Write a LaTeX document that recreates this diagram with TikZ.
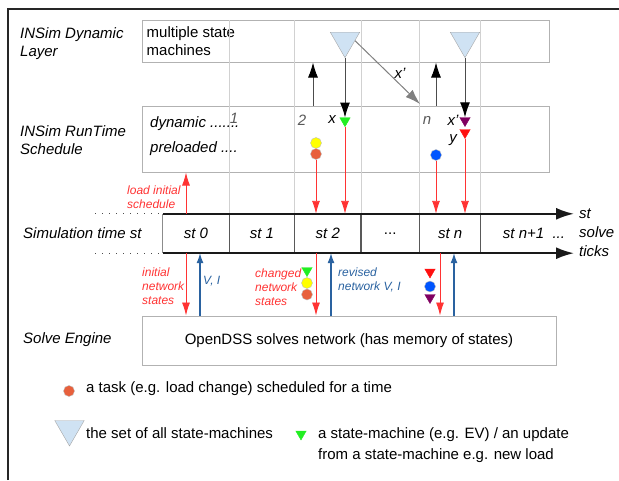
\documentclass[tikz,border=0pt]{standalone}
\usepackage{fontspec}
\setmainfont{Liberation Sans}
\usepackage{tikz}
\usetikzlibrary{arrows.meta,positioning,shapes.geometric}
\definecolor{tribl}{HTML}{CFE2F3}
\definecolor{redln}{HTML}{FF3333}
\definecolor{bluln}{HTML}{2A62A0}
\definecolor{orng}{HTML}{E8603C}
\definecolor{ylw}{HTML}{FFFF00}
\definecolor{bluc}{HTML}{0055FF}
\definecolor{purp}{HTML}{800060}
\definecolor{grn}{HTML}{22EE22}
\definecolor{trired}{HTML}{FF1010}

\begin{document}
\begin{tikzpicture}[
    x=1pt, y=-1pt,
    font=\fontsize{15}{18}\selectfont,
    layerbox/.style={
		rectangle,
		draw=black!30,
		line width=1pt,
		inner sep=0pt
	},
	sidetext/.style={
		font=\fontsize{15}{18}\selectfont\itshape,
		align=left,
		anchor=west,
		inner sep=0pt
	},
	cell/.style={
		rectangle,
		minimum height=39pt,
		inner sep=0pt,
		font=\fontsize{15}{18}\selectfont\itshape
	},
	rednote/.style={
		font=\fontsize{12}{14}\selectfont\itshape,
		text=redln,
		align=left,
		anchor=west,
		inner sep=0pt
	},
	bluenote/.style={
		rednote,
		text=bluln
	},
	bigtri/.style={
		regular polygon, regular polygon sides=3, shape border rotate=180,
		minimum size=34pt, inner sep=0pt,
		draw=black!35, fill=tribl
	},
	smalltri/.style={
		regular polygon, regular polygon sides=3, shape border rotate=180,
		minimum size=12pt, inner sep=0pt,
		fill=#1, draw=#1
	},
	blob/.style={
		circle, minimum size=11pt, inner sep=0pt,
		fill=#1, draw=black!25
	},
	redarrow/.style={->, draw=redln, line width=0.9pt, >={Latex[length=13pt,width=8pt]}},
	bluearrow/.style={->, draw=bluln, line width=1.1pt, >={Latex[length=10pt,width=7pt]}},
	blackarrow/.style={->, draw=black!70, line width=1pt, >={Latex[length=15pt,width=10pt,color=black]}},
	grayarrow/.style={->, draw=black!50, line width=1pt, >={Latex[length=15pt,width=10pt]}},
	timeline/.style={->, draw=black!90, line width=2pt, >={Latex[length=18pt,width=12pt]}},
	gridline/.style={draw=black!18, line width=1pt},
	divider/.style={draw=black!65, line width=1.2pt},
	dotline/.style={draw=black!70, line width=1.2pt, dash pattern=on 1.2pt off 5.8pt}
  ]
  \useasboundingbox (0,0) rectangle (619,480);

  % the layers
  \node [layerbox, minimum width=407pt, minimum height=42pt] (dynbox) at (345.5,41) {};
  \node [anchor=west, align=left, inner sep=0pt, right=5pt of dynbox.west] (mstext) {multiple state\\machines};
  \node [layerbox, minimum width=407pt, minimum height=66pt] (runbox) at (345.5,139) {};
  \node [sidetext] (dyntext) at (150,124) {dynamic .......};
  \node [sidetext] (pretext) at (150,149) {preloaded ....};
  \node [layerbox, minimum width=414pt, minimum height=49pt] (solvebox) at (349,340.5) {OpenDSS solves network (has memory of states)};

  \node [sidetext] (dynlbl) at (20,43.5) {INSim Dynamic\\Layer};
  \node [sidetext] (runlbl) at (20,140) {INSim RunTime\\Schedule};
  \node [sidetext] (simlbl) at (23,233) {Simulation time st};
  \node [sidetext] (solvelbl) at (23,340) {Solve Engine};

  % time steps
  \node [cell, minimum width=66pt] (st0) at (196,233.5) {st 0};
  \node [cell, minimum width=65pt, right=0pt of st0] (st1) {st 1};
  \node [cell, minimum width=66pt, right=0pt of st1] (st2) {st 2};
  \node [cell, minimum width=58pt, right=0pt of st2] (stdots) {\upshape ...};
  \node [cell, minimum width=61pt, right=0pt of stdots] (stn) {st n};
  \node [cell, minimum width=106pt, right=0pt of stn] (stnn) {st n+1 \ ...};

  \foreach \c in {st1,st2,stdots,stn,stnn}
    \draw [gridline] (\c.north west) -- (\c.north west |- dynbox.north);
  \foreach \c in {st1,st2,stdots,stn,stnn}
    \draw [divider] (\c.north west) -- (\c.south west);
  \draw [draw=black!45, line width=1.2pt] (st0.north west) -- (st0.south west);

  \coordinate (tlend) at (574,233);
  \draw [timeline] (st0.north west) -- (st0.north west -| tlend);
  \draw [timeline] (st0.south west) -- (st0.south west -| tlend);
  \node [sidetext, font=\fontsize{15}{19}\selectfont\itshape, right=5pt of tlend] (ticks) {st\\solve\\ticks};

  \coordinate (dotend) at (95,233);
  \draw [dotline] (dotend |- st0.north) -- ([xshift=-4pt]st0.north west);
  \draw [dotline] (dotend |- st0.south) -- ([xshift=-4pt]st0.south west);

  % state machines and schedule entries
  \node [bigtri] (sm1) at (345,40.7) {};
  \node [bigtri] (sm2) at (465,40.7) {};
  \node [smalltri=grn] (upd1) at (345,120.7) {};
  \node [smalltri=purp] (upd2) at (465,120.5) {};
  \node [smalltri=trired] (upd3) at (465,132.5) {};
  \node [blob=ylw] (c2a) at (316,143) {};
  \node [blob=orng] (c2b) at (316,154) {};
  \node [blob=bluc] (cn) at (436,155) {};

  \node [sidetext, anchor=center, text=black!65] (t1) at (234,118) {1};
  \node [sidetext, anchor=center, text=black!65] (t2) at (302,120) {2};
  \node [sidetext, anchor=center, text=black!65] (tn) at (427,120) {n};
  \node [sidetext, anchor=center] (lx) at (332,120) {x};
  \node [sidetext, anchor=center] (lxp) at (453,120) {x'};
  \node [sidetext, anchor=center] (ly) at (453,140) {y};
  \node [sidetext, anchor=center] (xplbl) at (400,73) {x'};

  \coordinate (up2) at (313,80);
  \coordinate (upn) at (436,80);
  \coordinate (xpend) at (420,104);
  \draw [blackarrow] (up2 |- runbox.north) -- (up2 |- dynbox.south);
  \draw [blackarrow] (upn |- runbox.north) -- (upn |- dynbox.south);
  \draw [blackarrow] (sm1.south) -- (upd1.north);
  \draw [blackarrow] (sm2.south) -- (upd2.north);
  \draw [grayarrow] (sm1.east) -- (xpend);

  \draw [redarrow] (c2b.south) -- (c2b.south |- st2.north);
  \draw [redarrow] (upd1.south) -- (upd1.south |- st2.north);
  \draw [redarrow] (cn.south) -- (cn.south |- stn.north);
  \draw [redarrow] (upd3.south) -- (upd3.south |- stn.north);

  % loading and solving
  \coordinate (ld) at (186,200);
  \draw [redarrow] (ld |- st0.north) -- (ld |- runbox.south);
  \node [rednote] (ldlbl) at (127,197) {load initial\\schedule};

  \draw [redarrow] (ld |- st0.south) -- (ld |- solvebox.north);
  \coordinate (bu0) at (200,280);
  \draw [bluearrow] (bu0 |- solvebox.north) -- (bu0 |- st0.south);
  \node [rednote] (initlbl) at (142,286) {initial\\network\\states};
  \node [bluenote] (vilbl) at (203,281) {V, I};

  \node [rednote] (chglbl) at (255,287) {changed\\network\\states};
  \node [smalltri=grn] (chg1) at (307,270.5) {};
  \node [blob=ylw] (chg2) at (307,283) {};
  \node [blob=orng] (chg3) at (307,294.5) {};
  \coordinate (rd2) at (316,280);
  \coordinate (bu2) at (331,280);
  \draw [redarrow] (rd2 |- st2.south) -- (rd2 |- solvebox.north);
  \draw [bluearrow] (bu2 |- solvebox.north) -- (bu2 |- st2.south);
  \node [bluenote] (revlbl) at (338,280) {revised\\network V, I};

  \node [smalltri=trired] (rvn1) at (430,272) {};
  \node [blob=bluc] (rvn2) at (430,286.5) {};
  \node [smalltri=purp] (rvn3) at (430,297.5) {};
  \coordinate (rdn) at (440,280);
  \coordinate (bun) at (454,280);
  \draw [redarrow] (rdn |- stn.south) -- (rdn |- solvebox.north);
  \draw [bluearrow] (bun |- solvebox.north) -- (bun |- stn.south);

  % legend
  \node [blob=orng] (lg1) at (69,391) {};
  \node [anchor=west, inner sep=0pt] (lg1txt) at (86,389) {a task (e.g. load change) scheduled for a time};
  \node [bigtri] (lg2) at (69.5,429) {};
  \node [anchor=west, inner sep=0pt] (lg2txt) at (86,433) {the set of all state-machines};
  \node [smalltri=grn] (lg3) at (301,434) {};
  \node [anchor=west, align=left, inner sep=0pt, font=\fontsize{15}{21}\selectfont] (lg3txt) at (318,445.5) {a state-machine (e.g. EV) / an update\\from a state-machine e.g. new load};

  \draw [line width=1.5pt, draw=black!85] (8,480) -- (8,9) -- (619,9);

\end{tikzpicture}
\end{document}
